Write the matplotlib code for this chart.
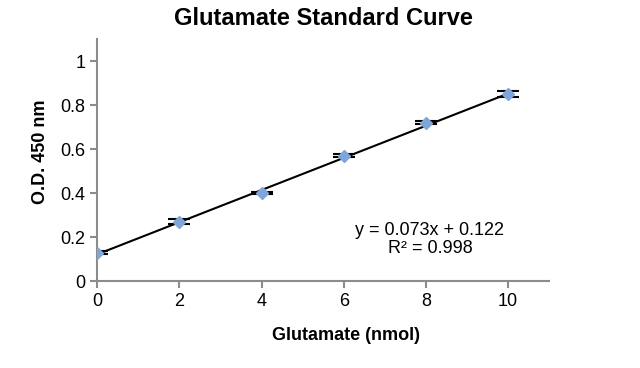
import numpy as np
import matplotlib
matplotlib.use("Agg")
import matplotlib.pyplot as plt

plt.rcParams['font.family'] = ['Liberation Sans', 'DejaVu Sans']

glutamate = [0, 2, 4, 6, 8, 10]
od450 = [0.13, 0.27, 0.40, 0.57, 0.72, 0.85]
od_err = [0.006, 0.012, 0.004, 0.008, 0.006, 0.012]
slope, intercept, r2 = 0.073, 0.122, 0.998

fig = plt.figure(figsize=(6.4, 3.68), dpi=100)
ax = fig.add_axes([0.152, 0.236, 0.706, 0.658])

# linear trendline
x_fit = np.array([0, 10])
ax.plot(x_fit, slope * x_fit + intercept, color='black', lw=1.5, zorder=2)

ax.errorbar(glutamate, od450, yerr=od_err, fmt='D', color='#7ea6d9',
            markersize=6, ecolor='black', elinewidth=1.2, capsize=8,
            capthick=1.5, zorder=3)

ax.set_xlim(0, 11)
ax.set_ylim(0, 1.1)
ax.set_xticks(range(0, 11, 2))
ax.set_yticks([0, 0.2, 0.4, 0.6, 0.8, 1.0])
ax.set_yticklabels(['0', '0.2', '0.4', '0.6', '0.8', '1'])

for side in ['top', 'right']:
    ax.spines[side].set_visible(False)
for side in ['left', 'bottom']:
    ax.spines[side].set_color('#8c8c8c')
    ax.spines[side].set_linewidth(1.5)
ax.tick_params(axis='both', colors='#8c8c8c', length=5, width=1.5,
               labelcolor='black', labelsize=13)

ax.set_title('Glutamate Standard Curve', fontsize=17, fontweight='bold', pad=10)
ax.set_xlabel('Glutamate (nmol)', fontsize=13, fontweight='bold', va='center')
ax.set_ylabel('O.D. 450 nm', fontsize=13, fontweight='bold', va='center')
ax.xaxis.set_label_coords(0.551, -0.223)
ax.yaxis.set_label_coords(-0.126, 0.533)

ax.text(8.1, 0.19, 'y = 0.073x + 0.122\nR² = 0.998', ha='center', va='center',
        fontsize=13, linespacing=1.1)

fig.savefig('out.png', dpi=100)
